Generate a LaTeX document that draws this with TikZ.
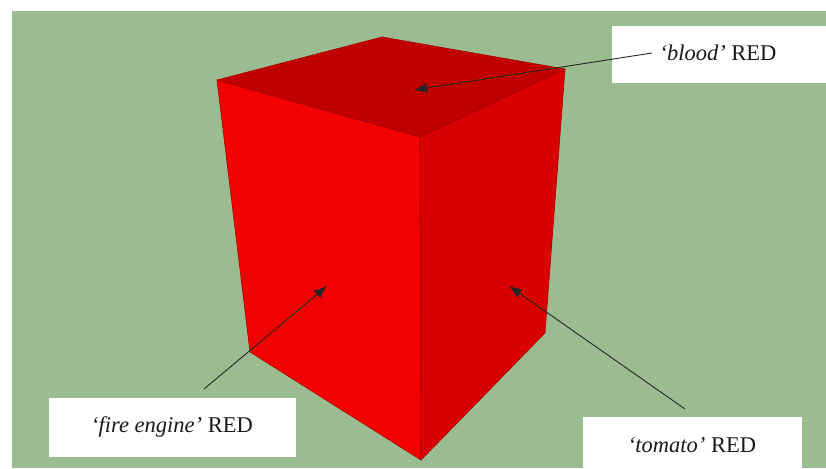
\documentclass[tikz,border=0pt]{standalone}
\usepackage{fontspec}
\setmainfont{Liberation Serif}
\usetikzlibrary{arrows.meta}
\definecolor{bggreen}{RGB}{155,187,145}
\definecolor{topred}{RGB}{192,0,0}
\definecolor{leftred}{RGB}{243,0,0}
\definecolor{rightred}{RGB}{216,0,0}
\definecolor{edgered}{RGB}{170,0,0}
\tikzset{
  face/.style={draw=edgered, line width=0.6pt, line join=round},
  labelbox/.style={fill=white, draw=none, inner sep=0pt},
  labeltext/.style={font=\fontsize{22.5}{26}\selectfont, text=black!90},
  pointer/.style={draw=black!85, line width=0.9pt, -{Latex[length=13pt,width=10pt]}}
}
\begin{document}
\begin{tikzpicture}[x=1pt,y=-1pt]
\useasboundingbox[fill=white] (0,0) rectangle (826,468);
\fill[bggreen] (12,11) rectangle (826,468);
% cube vertices
\coordinate (tb) at (382,37);
\coordinate (tl) at (217,80);
\coordinate (tr) at (565,69);
\coordinate (tf) at (420,137);
\coordinate (bl) at (250,352);
\coordinate (bf) at (421,460);
\coordinate (br) at (545,333);
% faces
\filldraw[face, fill=leftred] (tl) -- (tf) -- (bf) -- (bl) -- cycle;
\filldraw[face, fill=rightred] (tf) -- (tr) -- (br) -- (bf) -- cycle;
\filldraw[face, fill=topred] (tb) -- (tr) -- (tf) -- (tl) -- cycle;
% label boxes
\node[labelbox, minimum width=214pt, minimum height=57pt, anchor=north west] (blood) at (612,26) {};
\node[labeltext] (bloodtxt) at (718,53) {\textit{‘blood’} RED};
\node[labelbox, minimum width=247pt, minimum height=59pt, anchor=north west] (fire) at (49,398) {};
\node[labeltext] (firetxt) at (172,427) {\textit{‘fire engine’} RED};
\node[labelbox, minimum width=219pt, minimum height=51pt, anchor=north west] (tomato) at (583,417) {};
\node[labeltext] (tomatotxt) at (692,445) {\textit{‘tomato’} RED};
% pointer ends
\coordinate (bloodstart) at (652,53);
\coordinate (bloodtip) at (414,90);
\coordinate (firestart) at (204,389);
\coordinate (firetip) at (327,286);
\coordinate (tomatostart) at (685,409);
\coordinate (tomatotip) at (509,286);
\draw[pointer] (bloodstart) -- (bloodtip);
\draw[pointer] (firestart) -- (firetip);
\draw[pointer] (tomatostart) -- (tomatotip);
\end{tikzpicture}
\end{document}
